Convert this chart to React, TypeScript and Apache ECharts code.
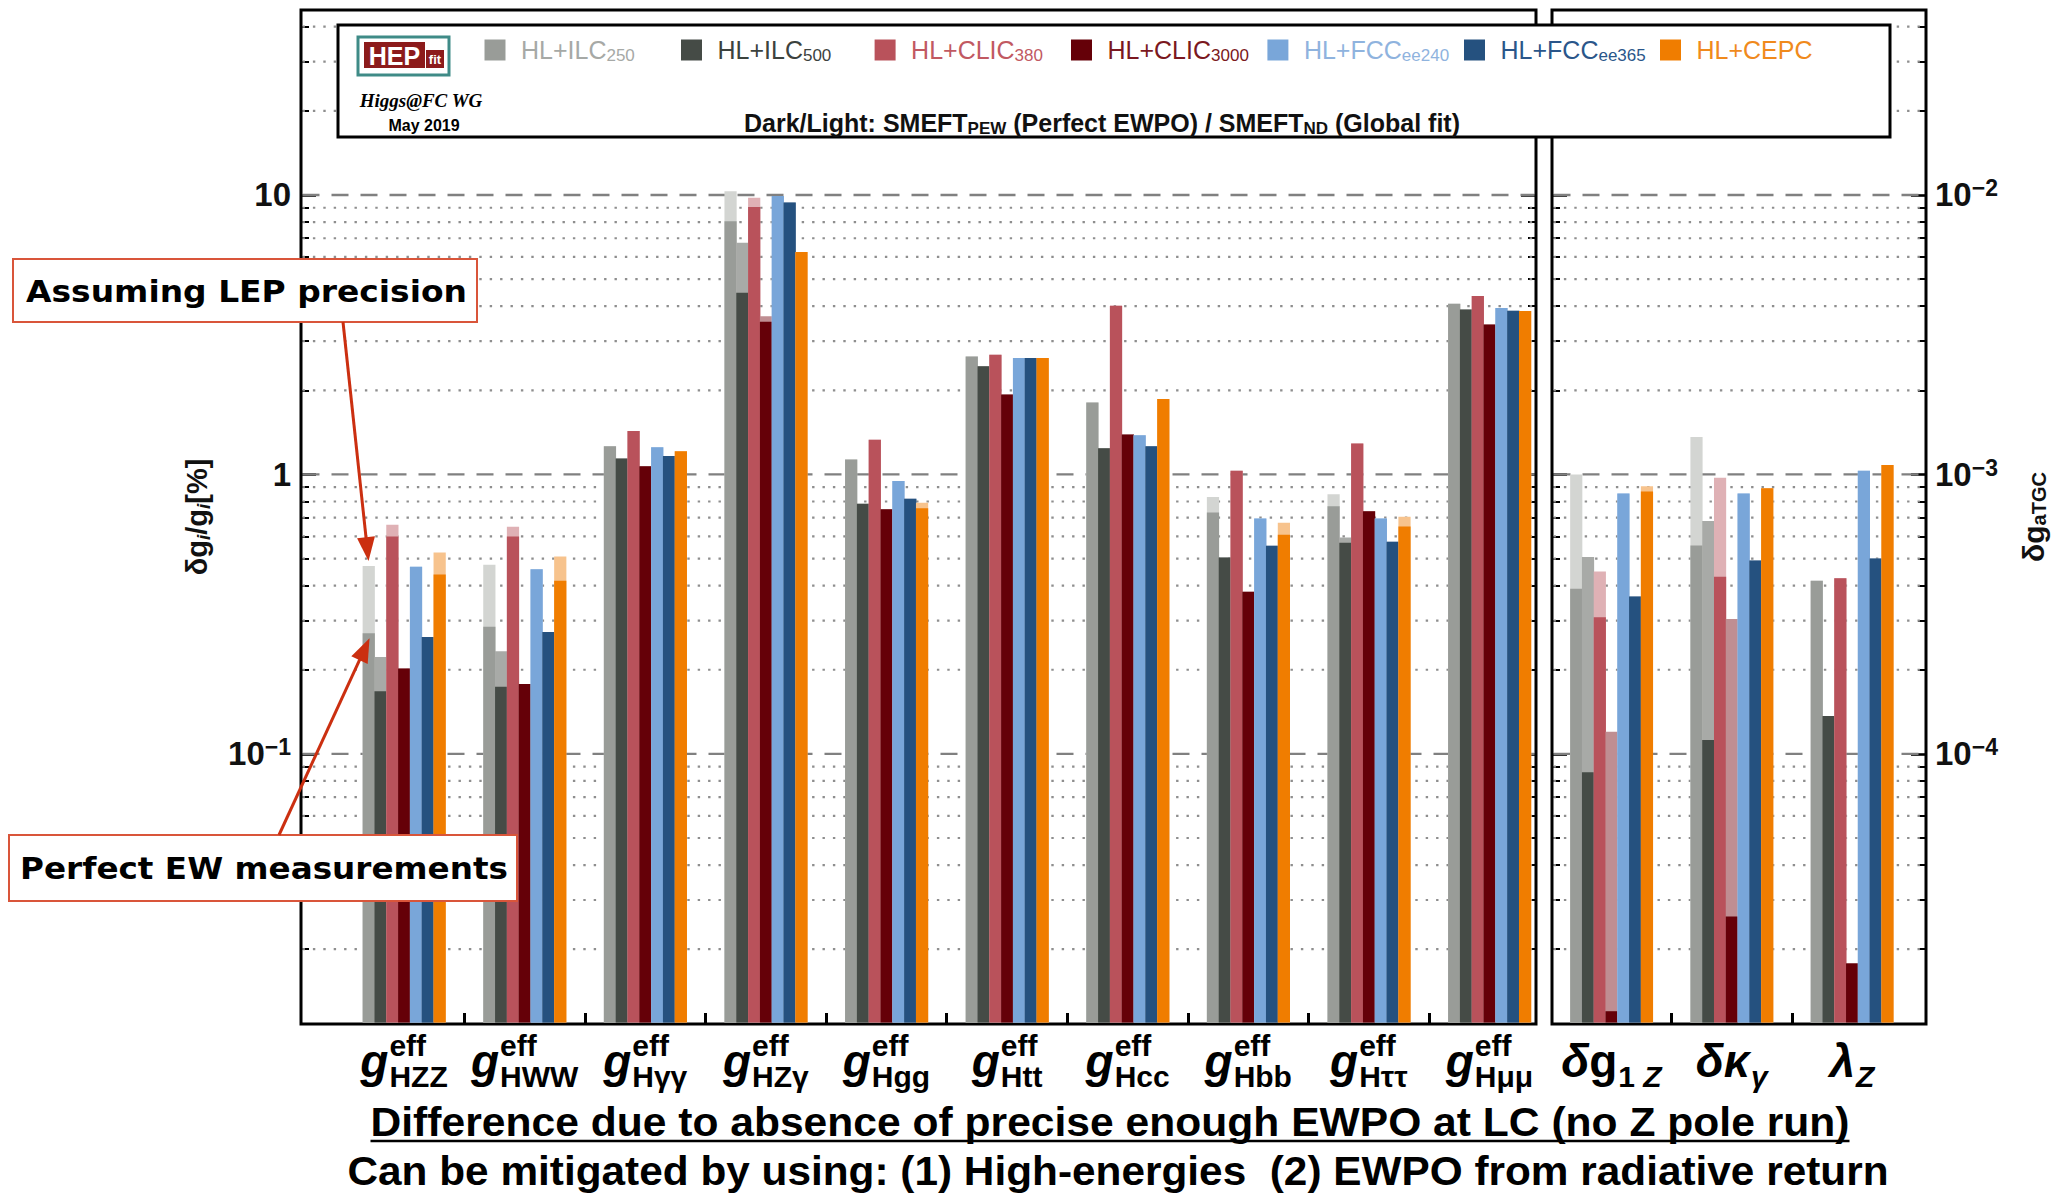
import React, { useEffect, useRef } from "react";
import * as echarts from "echarts";

const PAGE_W = 2053;
const PAGE_H = 1196;
const SANS = '"Liberation Sans", Arial, sans-serif';
const NARROW = '"Liberation Sans Narrow", "Liberation Sans", Arial, sans-serif';
const SERIF = '"Liberation Serif", "Times New Roman", serif';
const WIDE = '"DejaVu Sans", Verdana, sans-serif';

// ---------------- categories ----------------
const higgsCouplings = ["HZZ", "HWW", "Hγγ", "HZγ", "Hgg", "Htt", "Hcc", "Hbb", "Hττ", "Hμμ"];
const tgcCouplings = ["δg1Z", "δκγ", "λZ"];

const colliderNames = ["HL+ILC", "HL+ILC", "HL+CLIC", "HL+CLIC", "HL+FCC", "HL+FCC", "HL+CEPC"];
const colliderEnergies = ["250", "500", "380", "3000", "ee240", "ee365", ""];

// ---------------- Higgs couplings, δg/g [%] ----------------
// light shade: SMEFT_ND (global fit), dark shade: SMEFT_PEW (perfect EWPO)
const ilc250HiggsGlobal = [0.47, 0.475, 1.26, 10.3, 1.13, 2.64, 1.81, 0.83, 0.85, 4.08];
const ilc250HiggsPerfect = [0.27, 0.285, 1.26, 8.06, 1.13, 2.64, 1.81, 0.73, 0.77, 4.08];
const ilc500HiggsGlobal = [0.222, 0.233, 1.14, 6.74, 0.785, 2.44, 1.24, 0.504, 0.595, 3.89];
const ilc500HiggsPerfect = [0.1675, 0.174, 1.14, 4.47, 0.785, 2.44, 1.24, 0.504, 0.569, 3.89];
const clic380HiggsGlobal = [0.66, 0.65, 1.43, 9.78, 1.33, 2.68, 4.01, 1.03, 1.29, 4.35];
const clic380HiggsPerfect = [0.6, 0.6, 1.43, 9.06, 1.33, 2.68, 4.01, 1.03, 1.29, 4.35];
const clic3000HiggsGlobal = [0.202, 0.178, 1.07, 3.68, 0.751, 1.93, 1.39, 0.38, 0.738, 3.44];
const clic3000HiggsPerfect = [0.202, 0.178, 1.07, 3.52, 0.751, 1.93, 1.39, 0.38, 0.738, 3.44];
const fcc240HiggsGlobal = [0.467, 0.458, 1.25, 9.91, 0.948, 2.61, 1.38, 0.695, 0.695, 3.94];
const fcc240HiggsPerfect = [0.467, 0.458, 1.25, 9.91, 0.948, 2.61, 1.38, 0.695, 0.695, 3.94];
const fcc365HiggsGlobal = [0.262, 0.273, 1.165, 9.39, 0.818, 2.61, 1.26, 0.556, 0.574, 3.85];
const fcc365HiggsPerfect = [0.262, 0.273, 1.165, 9.39, 0.818, 2.61, 1.26, 0.556, 0.574, 3.85];
const cepcHiggsGlobal = [0.525, 0.508, 1.21, 6.25, 0.792, 2.61, 1.86, 0.671, 0.705, 3.84];
const cepcHiggsPerfect = [0.438, 0.416, 1.21, 6.25, 0.757, 2.61, 1.86, 0.608, 0.651, 3.84];

// ---------------- anomalous triple gauge couplings, δg_aTGC ----------------
const ilc250TgcGlobal = [1.0e-3, 1.36e-3, 4.16e-4];
const ilc250TgcPerfect = [3.9e-4, 5.57e-4, 4.16e-4];
const ilc500TgcGlobal = [5.06e-4, 6.81e-4, 1.365e-4];
const ilc500TgcPerfect = [8.6e-5, 1.12e-4, 1.365e-4];
const clic380TgcGlobal = [4.49e-4, 9.73e-4, 4.25e-4];
const clic380TgcPerfect = [3.08e-4, 4.3e-4, 4.25e-4];
const clic3000TgcGlobal = [1.2e-4, 3.04e-4, 1.78e-5];
const clic3000TgcPerfect = [1.2e-5, 2.62e-5, 1.78e-5];
const fcc240TgcGlobal = [8.55e-4, 8.55e-4, 1.03e-3];
const fcc240TgcPerfect = [8.55e-4, 8.55e-4, 1.03e-3];
const fcc365TgcGlobal = [3.66e-4, 4.92e-4, 5.0e-4];
const fcc365TgcPerfect = [3.66e-4, 4.92e-4, 5.0e-4];
const cepcTgcGlobal = [9.08e-4, 8.93e-4, 1.08e-3];
const cepcTgcPerfect = [8.69e-4, 8.93e-4, 1.08e-3];

const higgsGlobal = [ilc250HiggsGlobal, ilc500HiggsGlobal, clic380HiggsGlobal, clic3000HiggsGlobal, fcc240HiggsGlobal, fcc365HiggsGlobal, cepcHiggsGlobal];
const higgsPerfect = [ilc250HiggsPerfect, ilc500HiggsPerfect, clic380HiggsPerfect, clic3000HiggsPerfect, fcc240HiggsPerfect, fcc365HiggsPerfect, cepcHiggsPerfect];
const tgcGlobal = [ilc250TgcGlobal, ilc500TgcGlobal, clic380TgcGlobal, clic3000TgcGlobal, fcc240TgcGlobal, fcc365TgcGlobal, cepcTgcGlobal];
const tgcPerfect = [ilc250TgcPerfect, ilc500TgcPerfect, clic380TgcPerfect, clic3000TgcPerfect, fcc240TgcPerfect, fcc365TgcPerfect, cepcTgcPerfect];

// ---------------- ticks ----------------
const leftMajorTicks = [0.1, 1, 10];
const leftMinorTicks = [0.02, 0.03, 0.04, 0.05, 0.06, 0.07, 0.08, 0.09, 0.2, 0.3, 0.4, 0.5, 0.6, 0.7, 0.8, 0.9, 2, 3, 4, 5, 6, 7, 8, 9, 20, 30, 40];
const rightMajorTicks = [1e-4, 1e-3, 1e-2];
const rightMinorTicks = [2e-5, 3e-5, 4e-5, 5e-5, 6e-5, 7e-5, 8e-5, 9e-5, 2e-4, 3e-4, 4e-4, 5e-4, 6e-4, 7e-4, 8e-4, 9e-4, 2e-3, 3e-3, 4e-3, 5e-3, 6e-3, 7e-3, 8e-3, 9e-3, 2e-2, 3e-2, 4e-2];
const leftTickLabels = [["10", "−1"], ["1", ""], ["10", ""]];
const rightTickLabels = [["10", "−4"], ["10", "−3"], ["10", "−2"]];
const leftGroupSeparators = [0.5, 1.5, 2.5, 3.5, 4.5, 5.5, 6.5, 7.5, 8.5];
const rightGroupSeparators = [0.5, 1.5];

// ---------------- styling ----------------
const darkColors = ["#999c98", "#454b46", "#b9525b", "#650008", "#79a6d9", "#25517f", "#f07d00"];
const lightColors = ["#d3d5d2", "#a8aaa7", "#dfb1b5", "#bf8e92", "#bcd3ee", "#92a8bf", "#f7c38d"];
const legendTextColors = ["#a6a9a6", "#3c423e", "#c15962", "#7b1820", "#8fb3de", "#2a568a", "#f08a1c"];
const ARROW_RED = "#cb2f10";
const BOX_RED = "#d9553a";

const LEFT_GRID = { left: 301, top: 10, width: 1235, height: 1014 };
const RIGHT_GRID = { left: 1552, top: 10, width: 374, height: 1014 };
const LEFT_X_RANGE = [-0.854, 9.386];
const RIGHT_X_RANGE = [-0.494, 2.616];
const LEFT_Y_RANGE = [0.0108, 45.9];
const RIGHT_Y_RANGE = [1.08e-5, 0.0459];
const BAR_FRACTION = 0.098;

const measureCtx = document.createElement("canvas").getContext("2d") as CanvasRenderingContext2D;
function textWidth(font: string, text: string): number {
  measureCtx.font = font;
  return measureCtx.measureText(text).width;
}

function nearestIndex(list: number[], v: number): number {
  let best = 0;
  list.forEach((t, i) => {
    if (Math.abs(Math.log10(t) - Math.log10(v)) < Math.abs(Math.log10(list[best]) - Math.log10(v))) best = i;
  });
  return best;
}

function barRenderer(k: number) {
  return (params: any, api: any) => {
    const cat = api.value(0) as number;
    const global = api.value(1) as number;
    const perfect = api.value(2) as number;
    const cs = params.coordSys;
    const bottom = cs.y + cs.height - 1.5;
    const pG = api.coord([cat, global]);
    const pP = api.coord([cat, perfect]);
    const step = api.coord([cat + 1, global])[0] - pG[0];
    const bw = step * BAR_FRACTION;
    const x0 = pG[0] + (k - darkColors.length / 2) * bw;
    return {
      type: "group",
      children: [
        { type: "rect", shape: { x: x0, y: pG[1], width: bw + 0.4, height: bottom - pG[1] }, style: { fill: lightColors[k] } },
        { type: "rect", shape: { x: x0, y: pP[1], width: bw + 0.4, height: bottom - pP[1] }, style: { fill: darkColors[k] } },
      ],
    };
  };
}

function gridlineRenderer(params: any, api: any) {
  const v = api.value(1) as number;
  const major = api.value(2) === 1;
  const cs = params.coordSys;
  const y = api.coord([0, v])[1];
  return {
    type: "line",
    shape: { x1: cs.x + 1.5, y1: y, x2: cs.x + cs.width - 1.5, y2: y },
    style: major
      ? { stroke: "#808080", lineWidth: 2.4, lineDash: [17, 12] }
      : { stroke: "#8e8e8e", lineWidth: 2.2, lineDash: [2.4, 8] },
  };
}

function yAxesFor(gridIndex: number, range: number[], major: number[], minor: number[], labels: string[][], labelSide: string) {
  const base = {
    type: "log",
    logBase: 10,
    gridIndex,
    min: range[0],
    max: range[1],
    axisLine: { show: false, onZero: false },
    splitLine: { show: false },
    minorTick: { show: false },
    minorSplitLine: { show: false },
  };
  const majorTick = { show: true, inside: true, length: 15, lineStyle: { color: "#000", width: 2.6 }, customValues: major };
  const minorTick = { show: true, inside: true, length: 8, lineStyle: { color: "#000", width: 2 }, customValues: minor };
  const label = (side: string) =>
    side === labelSide
      ? {
          show: true,
          customValues: major,
          margin: side === "left" ? 10 : 9,
          formatter: (v: number) => {
            const [b, e] = labels[nearestIndex(major, v)];
            return e ? `{n|${b}}{s|${e}}` : `{n|${b}}`;
          },
          rich: {
            n: { fontSize: 33, fontWeight: "bold", fontFamily: SANS, color: "#111", lineHeight: 36 },
            s: { fontSize: 23, fontWeight: "bold", fontFamily: SANS, color: "#111", lineHeight: 18, verticalAlign: "top" },
          },
        }
      : { show: false };
  return [
    { ...base, position: "left", axisTick: majorTick, axisLabel: label("left") },
    { ...base, position: "left", axisTick: minorTick, axisLabel: { show: false } },
    { ...base, position: "right", axisTick: majorTick, axisLabel: label("right") },
    { ...base, position: "right", axisTick: minorTick, axisLabel: { show: false } },
  ];
}

function xAxisFor(gridIndex: number, range: number[], separators: number[]) {
  return {
    type: "value",
    gridIndex,
    position: "bottom",
    min: range[0],
    max: range[1],
    axisLine: { show: false, onZero: false },
    splitLine: { show: false },
    axisLabel: { show: false },
    axisTick: { show: true, inside: true, length: 11, lineStyle: { color: "#000", width: 3 }, customValues: separators },
  };
}

function buildOption() {
  const series: any[] = [];
  // grid lines (decades dashed, intermediate values dotted)
  const gridRows = (major: number[], minor: number[]) => [
    ...major.map((v) => [0, v, 1]),
    ...minor.map((v) => [0, v, 0]),
  ];
  series.push({ type: "custom", xAxisIndex: 0, yAxisIndex: 0, z: 1, silent: true, renderItem: gridlineRenderer, data: gridRows(leftMajorTicks, leftMinorTicks) });
  series.push({ type: "custom", xAxisIndex: 1, yAxisIndex: 4, z: 1, silent: true, renderItem: gridlineRenderer, data: gridRows(rightMajorTicks, rightMinorTicks) });

  colliderNames.forEach((name, k) => {
    series.push({
      type: "custom",
      name: name + colliderEnergies[k],
      xAxisIndex: 0,
      yAxisIndex: 0,
      z: 3,
      renderItem: barRenderer(k),
      data: higgsCouplings.map((_, i) => [i, higgsGlobal[k][i], higgsPerfect[k][i]]),
    });
    series.push({
      type: "custom",
      name: name + colliderEnergies[k] + " aTGC",
      xAxisIndex: 1,
      yAxisIndex: 4,
      z: 3,
      renderItem: barRenderer(k),
      data: tgcCouplings.map((_, i) => [i, tgcGlobal[k][i], tgcPerfect[k][i]]),
    });
  });

  const gridStyle = { show: true, borderColor: "#000", borderWidth: 3, backgroundColor: "transparent", containLabel: false };
  return {
    animation: false,
    backgroundColor: "#fff",
    grid: [
      { ...LEFT_GRID, ...gridStyle },
      { ...RIGHT_GRID, ...gridStyle },
    ],
    xAxis: [xAxisFor(0, LEFT_X_RANGE, leftGroupSeparators), xAxisFor(1, RIGHT_X_RANGE, rightGroupSeparators)],
    yAxis: [
      ...yAxesFor(0, LEFT_Y_RANGE, leftMajorTicks, leftMinorTicks, leftTickLabels, "left"),
      ...yAxesFor(1, RIGHT_Y_RANGE, rightMajorTicks, rightMinorTicks, rightTickLabels, "right"),
    ],
    series,
  };
}

// ---------------- text helpers ----------------
function text(x: number, y: number, str: string, opts: any = {}) {
  const align = opts.align ?? "left";
  return {
    type: "text",
    x,
    y,
    z: opts.z ?? 80,
    rotation: opts.rotation ?? 0,
    scaleX: opts.scaleX ?? 1,
    style: {
      text: str,
      fontSize: opts.size ?? 20,
      fontWeight: opts.weight ?? "bold",
      fontStyle: opts.style ?? "normal",
      fontFamily: opts.family ?? SANS,
      fill: opts.fill ?? "#000",
      align,
      textAlign: align,
      verticalAlign: "middle",
      textVerticalAlign: "middle",
      rich: opts.rich,
    },
  };
}

function arrow(x1: number, y1: number, x2: number, y2: number) {
  const dx = x2 - x1;
  const dy = y2 - y1;
  const len = Math.hypot(dx, dy);
  const ux = dx / len;
  const uy = dy / len;
  const head = 24;
  const half = 9;
  const bx = x2 - ux * head;
  const by = y2 - uy * head;
  return [
    { type: "line", z: 90, shape: { x1, y1, x2: bx + ux * 3, y2: by + uy * 3 }, style: { stroke: ARROW_RED, lineWidth: 3 } },
    {
      type: "polygon",
      z: 90,
      shape: { points: [[x2, y2], [bx - uy * half, by + ux * half], [bx + uy * half, by - ux * half]] },
      style: { fill: ARROW_RED },
    },
  ];
}

type Piece = { t: string; it: boolean };
const higgsAxisLabels = higgsCouplings.map((c) => ({ main: [{ t: "g", it: true }] as Piece[], sup: "eff", sub: [{ t: c, it: false }] as Piece[] }));
const tgcAxisLabels = [
  { main: [{ t: "δ", it: true }, { t: "g", it: false }], sup: "", sub: [{ t: "1", it: false }, { t: " Z", it: true }] },
  { main: [{ t: "δκ", it: true }], sup: "", sub: [{ t: "γ", it: true }] },
  { main: [{ t: "λ", it: true }], sup: "", sub: [{ t: "Z", it: true }] },
];

function axisLabelGraphics(cx: number, axisBottom: number, label: { main: Piece[]; sup: string; sub: Piece[] }) {
  const MAIN = 46;
  const SMALL = 30;
  const fontOf = (it: boolean, size: number) => `${it ? "italic" : "normal"} bold ${size}px ${SANS}`;
  const mainW = label.main.map((p) => textWidth(fontOf(p.it, MAIN), p.t));
  const subW = label.sub.map((p) => textWidth(fontOf(p.it, SMALL), p.t));
  const supW = label.sup ? textWidth(fontOf(false, SMALL), label.sup) : 0;
  const mainTotal = mainW.reduce((a, b) => a + b, 0);
  const tail = Math.max(subW.reduce((a, b) => a + b, 0), supW);
  let x = cx - (mainTotal + 1 + tail) / 2;
  const out: any[] = [];
  label.main.forEach((p, i) => {
    out.push(text(x, axisBottom + 37, p.t, { size: MAIN, style: p.it ? "italic" : "normal" }));
    x += mainW[i];
  });
  x += 1;
  if (label.sup) out.push(text(x, axisBottom + 21, label.sup, { size: SMALL }));
  label.sub.forEach((p, i) => {
    out.push(text(x, axisBottom + 52.5, p.t, { size: SMALL, style: p.it ? "italic" : "normal" }));
    x += subW[i];
  });
  return out;
}

const noteLine1 = "Difference due to absence of precise enough EWPO at LC (no Z pole run)";
const noteLine2 = "Can be mitigated by using: (1) High-energies\u00a0\u00a0(2) EWPO from radiative return";
const lepNote = "Assuming LEP precision";
const ewNote = "Perfect EW measurements";

function buildGraphics(chart: echarts.ECharts) {
  const els: any[] = [];
  const px = (axis: number, v: number) => chart.convertToPixel({ xAxisIndex: axis }, v) as number;
  const py = (axis: number, v: number) => chart.convertToPixel({ yAxisIndex: axis }, v) as number;
  const axisBottom = LEFT_GRID.top + LEFT_GRID.height;

  // category labels under each panel
  higgsAxisLabels.forEach((lab, i) => els.push(...axisLabelGraphics(px(0, i), axisBottom, lab)));
  tgcAxisLabels.forEach((lab, i) => els.push(...axisLabelGraphics(px(1, i), axisBottom, lab)));

  // legend frame
  els.push({ type: "rect", z: 60, shape: { x: 338, y: 25, width: 1552, height: 112 }, style: { fill: "#fff", stroke: "#000", lineWidth: 3 } });
  // HEPfit logo
  els.push({ type: "rect", z: 61, shape: { x: 358, y: 37, width: 91, height: 38 }, style: { fill: "#fff", stroke: "#3f8b87", lineWidth: 3 } });
  els.push({ type: "rect", z: 62, shape: { x: 364, y: 42, width: 61, height: 26 }, style: { fill: "#8c1b1b" } });
  els.push({ type: "rect", z: 62, shape: { x: 426, y: 50, width: 18, height: 18 }, style: { fill: "#8c1b1b" } });
  els.push(text(394.5, 55.5, "HEP", { size: 25, fill: "#fff", align: "center", z: 63 }));
  els.push(text(435, 59.5, "fit", { size: 13, fill: "#fff", align: "center", z: 63 }));
  els.push(text(421, 100, "Higgs@FC WG", { size: 19, style: "italic", family: SERIF, align: "center", z: 63 }));
  els.push(text(424, 125, "May 2019", { size: 16, align: "center", z: 63 }));

  const legendX = [484.5, 681, 874.6, 1071, 1267.4, 1464, 1660];
  colliderNames.forEach((name, k) => {
    els.push({ type: "rect", z: 62, shape: { x: legendX[k], y: 39.5, width: 21, height: 21 }, style: { fill: darkColors[k] } });
    const c = legendTextColors[k];
    els.push(
      text(legendX[k] + 36.5, 50, colliderEnergies[k] ? `{m|${name}}{s|${colliderEnergies[k]}}` : `{m|${name}}`, {
        z: 63,
        weight: "normal",
        rich: {
          m: { fontSize: 25, fontFamily: SANS, fill: c, color: c, lineHeight: 28 },
          s: { fontSize: 17, fontFamily: SANS, fill: c, color: c, lineHeight: 15, verticalAlign: "bottom" },
        },
      })
    );
  });
  els.push(
    text(1102, 123, "{b|Dark/Light: SMEFT}{s|PEW}{b| (Perfect EWPO) / SMEFT}{s|ND}{b| (Global fit)}", {
      z: 63,
      align: "center",
      rich: {
        b: { fontSize: 25, fontWeight: "bold", fontFamily: SANS, fill: "#111", color: "#111", lineHeight: 28 },
        s: { fontSize: 17, fontWeight: "bold", fontFamily: SANS, fill: "#111", color: "#111", lineHeight: 14, verticalAlign: "bottom" },
      },
    })
  );

  // axis titles
  els.push(
    text(197, 517, "{m|δg}{s|i}{m|/g}{s|i}{m|[%]}", {
      align: "center",
      rotation: Math.PI / 2,
      rich: {
        m: { fontSize: 29, fontWeight: "bold", fontFamily: SANS, fill: "#111", color: "#111", lineHeight: 32 },
        s: { fontSize: 19, fontWeight: "bold", fontStyle: "italic", fontFamily: SANS, fill: "#111", color: "#111", lineHeight: 14, verticalAlign: "bottom" },
      },
    })
  );
  els.push(
    text(2033, 517, "{m|δg}{s|aTGC}", {
      align: "center",
      rotation: Math.PI / 2,
      rich: {
        m: { fontSize: 30, fontWeight: "bold", fontFamily: SANS, fill: "#111", color: "#111", lineHeight: 32 },
        s: { fontSize: 20, fontWeight: "bold", fontFamily: SANS, fill: "#111", color: "#111", lineHeight: 14, verticalAlign: "bottom" },
      },
    })
  );

  // annotation boxes with arrows to the gHZZ bars of HL+ILC250
  const bw = (px(0, 1) - px(0, 0)) * BAR_FRACTION;
  const ilc250X = px(0, 0) + (0 - darkColors.length / 2 + 0.5) * bw;
  els.push(...arrow(343, 322, ilc250X, py(0, ilc250HiggsGlobal[0]) - 5));
  els.push(...arrow(279, 835, ilc250X + 1, py(0, ilc250HiggsPerfect[0]) + 5));

  const wideFont = `bold 31px ${WIDE}`;
  els.push({ type: "rect", z: 85, shape: { x: 13, y: 259, width: 464, height: 63 }, style: { fill: "#fff", stroke: BOX_RED, lineWidth: 2 } });
  els.push(text(246.5, 291, lepNote, { size: 31, family: WIDE, align: "center", z: 86, scaleX: 441 / textWidth(wideFont, lepNote) }));
  els.push({ type: "rect", z: 85, shape: { x: 9, y: 835, width: 508, height: 66 }, style: { fill: "#fff", stroke: BOX_RED, lineWidth: 2 } });
  els.push(text(264, 868, ewNote, { size: 31, family: WIDE, align: "center", z: 86, scaleX: 488 / textWidth(wideFont, ewNote) }));

  // notes under the chart
  const noteFont = `bold 41px ${NARROW}`;
  const w1 = 1479;
  const w2 = 1542;
  els.push(text(1110, 1122, noteLine1, { size: 41, family: NARROW, align: "center", scaleX: w1 / textWidth(noteFont, noteLine1) }));
  els.push({ type: "line", z: 80, shape: { x1: 1110 - w1 / 2, y1: 1141, x2: 1110 + w1 / 2, y2: 1141 }, style: { stroke: "#000", lineWidth: 2.5 } });
  els.push(text(1118, 1171, noteLine2, { size: 41, family: NARROW, align: "center", scaleX: w2 / textWidth(noteFont, noteLine2) }));

  return els;
}

export default function App() {
  const ref = useRef<HTMLDivElement>(null);
  useEffect(() => {
    document.body.style.margin = "0";
    const chart = echarts.init(ref.current as HTMLDivElement, null, { renderer: "svg", width: PAGE_W, height: PAGE_H });
    chart.setOption(buildOption() as any);
    chart.setOption({ graphic: buildGraphics(chart) } as any);
    return () => chart.dispose();
  }, []);
  return <div ref={ref} style={{ position: "absolute", left: 0, top: 0, width: PAGE_W, height: PAGE_H, background: "#fff" }} />;
}
